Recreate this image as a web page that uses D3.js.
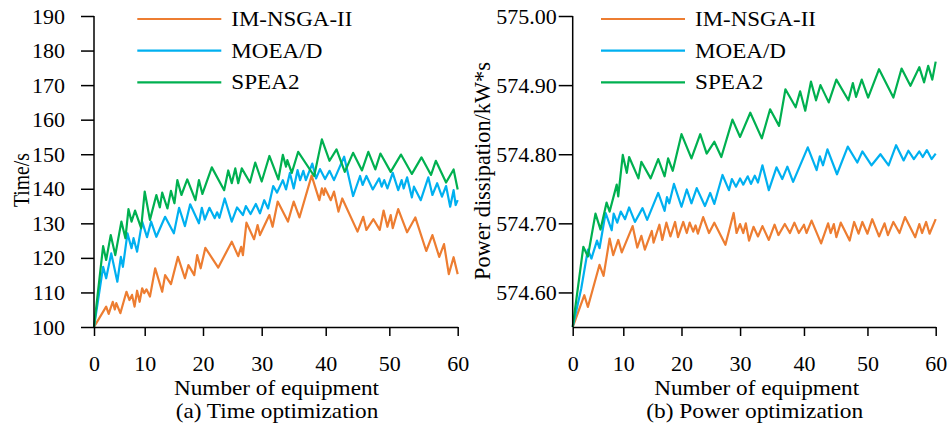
<!DOCTYPE html>
<html>
<head>
<meta charset="utf-8">
<script src="https://cdn.jsdelivr.net/npm/d3@7"></script>
<style>
  body { margin: 0; background: #fff; }
  svg { display: block; }
  text { font-family: "Liberation Serif", "Times New Roman", serif; fill: #000; }
</style>
</head>
<body>
<svg id="chart" width="950" height="426"></svg>
<script>
// ---- shared labels ----
const seriesNames = ["IM-NSGA-II", "MOEA/D", "SPEA2"];
const xTickValues = [0, 10, 20, 30, 40, 50, 60];
const timeTickValues = [100, 110, 120, 130, 140, 150, 160, 170, 180, 190];
const powerTickValues = [574.60, 574.70, 574.80, 574.90, 575.00];

// ---- (a) time optimization ----
const timeNsgaX = [0,2.4,2.9,3.7,4.1,4.4,5.2,6.4,7.0,7.5,8.0,8.5,9.0,9.5,9.9,10.3,10.9,11.8,13.0,13.5,14.5,15.7,16.9,17.5,18.5,19.0,19.6,20.4,22.6,24.9,26.0,26.5,26.8,27.4,28.7,29.3,29.7,31.2,31.7,32.5,34.1,35.0,35.9,37.8,39.0,39.4,39.7,39.9,40.8,41.3,42.0,42.6,45.0,45.9,46.4,47.5,48.5,49.1,49.7,50.2,50.5,51.3,52.6,53.8,55.4,56.3,57.3,58.0,58.7,59.4,60];
const timeNsgaY = [100,105.9,103.8,107.3,105.1,106.9,104,110.2,107.8,109.3,105.9,110.5,107.3,111.2,109.8,110.9,108.8,117,110.2,115,112.4,120.3,114.1,117.9,115,120.8,117,122.9,117.2,124.7,120.5,123.2,120.8,130.2,125.4,129.5,126.6,132.4,129,136.3,130.5,136.3,131.7,143.8,136.7,140.1,138.2,140.1,136.7,139.2,133.4,137.2,127.6,131.9,128.1,131.2,128.1,133.7,129,132.4,128.6,134.1,127.4,131.7,122,126.6,120.3,124,115.3,120.2,115.3];

const timeMoeaX = [0,1.8,2.4,3.4,4.6,5.3,5.7,6.6,7.4,7.8,8.5,9.5,10.4,11.1,12.0,13.5,15.0,15.9,16.9,17.8,19.3,19.8,20.3,21.1,22.0,22.4,22.8,23.7,24.9,25.8,26.8,27.3,28.1,29.0,29.7,30.4,31.0,31.8,32.4,33.3,33.8,34.4,35.0,35.6,36.0,36.5,36.9,37.9,38.5,39.1,39.9,40.6,41.3,42.9,44.3,45.4,45.8,46.4,47.4,48.4,48.8,49.2,49.7,50.5,51.3,51.8,52.1,52.6,53.3,53.6,54.6,55.7,56.3,57.0,57.7,58.3,58.9,59.4,59.7,60];
const timeMoeaY = [100,117.4,114.1,121.3,113.1,120.3,117.4,127.1,122.8,125.7,121.8,130.5,126,130.5,126.1,131.9,127.1,134.5,129.2,135.5,130,134.5,131.1,134.5,131.5,133.2,131.6,137.2,130.5,134.6,132.4,135,132.7,135.6,132.9,136.7,134.3,140.8,138.9,142.5,139.8,144.6,140.1,145.4,142.5,145.2,142.5,147.3,143,145.7,142.8,145.2,142.5,149.3,137.9,143.7,141.1,143.7,139.8,143,140.6,142.5,140.1,144.6,139.6,142.5,140.1,143.3,137.5,140.6,136.7,143.3,138.2,141.6,137.7,140.8,134.8,139.6,135.3,136.7];

const timeSpeaX = [0,1.8,2.4,3.3,4.2,5.4,6.2,6.8,7.4,8.1,9.3,10.0,10.9,12.0,12.6,13.0,13.9,14.5,15.1,15.6,16.3,17.3,18.7,19.3,19.9,21.5,23.6,24.3,24.9,25.5,26.0,26.6,28.0,28.9,30.0,31.2,32.6,33.3,33.8,34.0,34.7,35.7,38.2,39.4,40.6,41.7,43.0,44.3,45.7,46.7,47.8,48.6,50.2,51.7,53.3,54.7,56.1,56.8,58.3,59.4,60];
const timeSpeaY = [100,123.4,119.4,126.6,120.8,130.5,125.7,134.1,130.5,133.7,128.6,139.2,131,138.2,134.6,138.9,134.3,139.4,135.8,142.5,138.2,142.7,136.7,142.5,138.5,146.2,139.6,145.3,141.6,145.9,141.6,145.9,141.8,147.6,142.1,149.5,142.7,149.8,146.4,148.3,144.6,150.7,143.7,154.3,148.1,151.4,144.9,150.4,145.3,150.7,145.6,150.2,144.9,149.9,144.3,149.1,144,148.1,141.8,145.6,139.8];

// ---- (b) power optimization ----
const powerNsgaX = [0,2.3,3.0,5.3,6.1,7.3,8.0,9.0,9.7,11.6,12.4,13.1,13.7,14.9,15.2,16.2,16.7,17.4,18.1,18.9,19.4,20.3,20.9,21.4,22.0,22.4,22.8,23.7,24.7,25.6,27.5,28.9,29.4,30.0,30.5,30.9,31.4,32.1,32.8,33.5,34.5,35.4,36.0,37.0,37.8,38.5,39.2,40.0,40.4,41.2,42.7,43.8,44.2,44.7,45.1,45.8,47.2,47.9,48.6,49.2,50.0,50.7,51.7,52.5,53.0,53.8,54.7,55.5,57.0,57.6,58.0,58.6,59.1,60];
const powerNsgaY = [574.550,574.596,574.579,574.640,574.624,574.678,574.654,574.676,574.658,574.696,574.665,574.682,574.662,574.689,574.672,574.698,574.676,574.701,574.681,574.702,574.680,574.702,574.686,574.701,574.688,574.697,574.685,574.709,574.686,574.701,574.669,574.715,574.686,574.699,574.686,574.700,574.675,574.695,574.681,574.696,574.676,574.698,574.683,574.699,574.686,574.701,574.686,574.698,574.686,574.704,574.671,574.700,574.686,574.699,574.680,574.701,574.675,574.702,574.685,574.702,574.685,574.706,574.681,574.700,574.683,574.702,574.686,574.709,574.680,574.699,574.686,574.702,574.685,574.706];

const powerMoeaX = [0,1.7,3.0,3.7,4.8,5.3,6.5,7.7,8.1,8.8,9.5,10.3,11.0,12.0,13.3,14.1,16.0,17.1,17.5,17.9,18.7,20.0,20.9,21.7,22.6,24.0,24.9,25.6,27.0,28.1,28.6,29.3,30.0,30.5,31.2,31.7,32.3,32.8,33.5,34.5,35.7,36.6,37.4,38.3,40.6,42.0,42.5,43.0,43.7,45.2,46.9,48.4,49.2,50.6,51.9,53.1,54.2,55.3,56.0,56.8,57.6,58.1,58.7,59.4,60];
const powerMoeaY = [574.550,574.606,574.662,574.649,574.675,574.664,574.715,574.690,574.714,574.701,574.717,574.706,574.723,574.702,574.722,574.705,574.744,574.718,574.738,574.729,574.757,574.724,574.749,574.729,574.751,574.725,574.744,574.728,574.770,574.748,574.764,574.753,574.765,574.756,574.768,574.757,574.769,574.759,574.784,574.748,574.781,574.764,574.782,574.760,574.810,574.777,574.797,574.784,574.807,574.771,574.811,574.788,574.804,574.784,574.800,574.784,574.813,574.791,574.805,574.793,574.804,574.796,574.806,574.793,574.801];

const powerSpeaX = [0,2.1,3.0,4.5,5.5,6.7,7.3,8.7,9.0,9.9,10.6,11.0,12.6,13.1,14.7,16.0,17.1,17.7,18.5,20.0,21.7,23.2,24.3,25.6,26.8,28.7,30.0,31.6,33.4,34.7,36.1,37.1,38.7,39.4,40.2,41.1,41.9,42.6,43.9,45.1,47.0,47.7,48.2,49.1,50.1,51.7,53.8,55.0,56.3,57.6,58.3,58.9,59.5,60];
const powerSpeaY = [574.550,574.666,574.652,574.714,574.691,574.730,574.717,574.756,574.739,574.799,574.773,574.796,574.765,574.789,574.765,574.793,574.768,574.794,574.776,574.829,574.794,574.829,574.801,574.818,574.796,574.850,574.825,574.860,574.823,574.865,574.841,574.894,574.868,574.891,574.863,574.905,574.878,574.900,574.875,574.908,574.878,574.903,574.883,574.908,574.882,574.923,574.882,574.924,574.899,574.926,574.904,574.928,574.908,574.934];

// ---- drawing ----
const colors = ["#ED7D31", "#00B0F0", "#00B050"];
const svg = d3.select("#chart");
const FONT = 22;

// The equipment axis has uneven tick spacing that widens toward the right,
// so the x scale is piecewise linear over the labelled ticks.
const tickSpread = [0, 0.1394, 0.2997, 0.4611, 0.6371, 0.8120, 1];

// widths the serif labels are fitted to
const legendWidths = [121, 91, 68.3];
const xTitleWidth = 205;

const panels = [
  {
    left: 94, width: 363.7, top: 16, bottom: 327,
    yDomain: [100, 190], yTicks: timeTickValues, yFormat: d3.format("d"),
    yTickSize: 13, yTickPad: 16,
    yTitle: "Time/s", yTitleX: 28.5, yTitleY: 180, yTitleSize: 23, yTitleLen: 54,
    caption: "(a) Time optimization", captionLen: 202.6, captionX: 277, xTitleX: 276.5,
    legendX: 137.3,
    series: [[timeNsgaX, timeNsgaY], [timeMoeaX, timeMoeaY], [timeSpeaX, timeSpeaY]]
  },
  {
    left: 572.7, width: 363, top: 16, bottom: 327,
    yDomain: [574.55, 575.00], yTicks: powerTickValues, yFormat: d3.format(".2f"),
    yTickSize: 14, yTickPad: 2,
    yTitle: "Power dissipation/kW*s", yTitleX: 489.5, yTitleY: 171, yTitleSize: 24, yTitleLen: 218,
    caption: "(b) Power optimization", captionLen: 217, captionX: 754.7, xTitleX: 756.7,
    legendX: 601,
    series: [[powerNsgaX, powerNsgaY], [powerMoeaX, powerMoeaY], [powerSpeaX, powerSpeaY]]
  }
];

function fitted(sel, len) {
  return sel.attr("textLength", len).attr("lengthAdjust", "spacingAndGlyphs");
}

panels.forEach(p => {
  const x = d3.scaleLinear()
    .domain(xTickValues)
    .range(tickSpread.map(f => p.left + f * p.width));
  const y = d3.scaleLinear().domain(p.yDomain).range([p.bottom, p.top]);

  const g = svg.append("g");

  // series lines
  const line = d3.line().x(d => x(d[0])).y(d => y(d[1]));
  p.series.forEach((s, i) => {
    const pts = s[0].map((v, k) => [v, s[1][k]]);
    g.append("path")
      .datum(pts)
      .attr("d", line)
      .attr("fill", "none")
      .attr("stroke", colors[i])
      .attr("stroke-width", 2.2)
      .attr("stroke-linejoin", "round");
  });

  // axes
  const xAxis = g.append("g")
    .attr("transform", `translate(0,${p.bottom})`)
    .call(d3.axisBottom(x).tickValues(xTickValues).tickSize(9).tickSizeOuter(0).tickPadding(19));
  const yAxis = g.append("g")
    .attr("transform", `translate(${p.left},0)`)
    .call(d3.axisLeft(y).tickValues(p.yTicks).tickFormat(p.yFormat)
      .tickSize(p.yTickSize).tickSizeOuter(0).tickPadding(p.yTickPad));
  [xAxis, yAxis].forEach(a => {
    a.selectAll("path, line").attr("stroke", "#000").attr("stroke-width", 1.5);
    a.selectAll("text").attr("font-size", FONT).attr("font-family", "Liberation Serif, serif").attr("fill", "#000");
  });
  // y axis line runs the full height of the plot
  yAxis.select(".domain").attr("d", `M0,${p.bottom}V${p.top}`);

  // axis titles
  fitted(g.append("text")
    .attr("x", p.xTitleX).attr("y", 394.5)
    .attr("text-anchor", "middle").attr("font-size", FONT)
    .text("Number of equipment"), xTitleWidth);
  fitted(g.append("text")
    .attr("x", p.captionX).attr("y", 417.5)
    .attr("text-anchor", "middle").attr("font-size", FONT)
    .text(p.caption), p.captionLen);
  fitted(g.append("text")
    .attr("transform", `translate(${p.yTitleX},${p.yTitleY}) rotate(-90)`)
    .attr("text-anchor", "middle").attr("font-size", p.yTitleSize)
    .text(p.yTitle), p.yTitleLen);

  // legend
  const legendRows = [19, 50.7, 82.3];
  seriesNames.forEach((name, i) => {
    g.append("line")
      .attr("x1", p.legendX).attr("x2", p.legendX + 84)
      .attr("y1", legendRows[i]).attr("y2", legendRows[i])
      .attr("stroke", colors[i]).attr("stroke-width", 2.2);
    fitted(g.append("text")
      .attr("x", p.legendX + 94).attr("y", legendRows[i] + 7)
      .attr("font-size", FONT)
      .text(name), legendWidths[i]);
  });
});
</script>
</body>
</html>
